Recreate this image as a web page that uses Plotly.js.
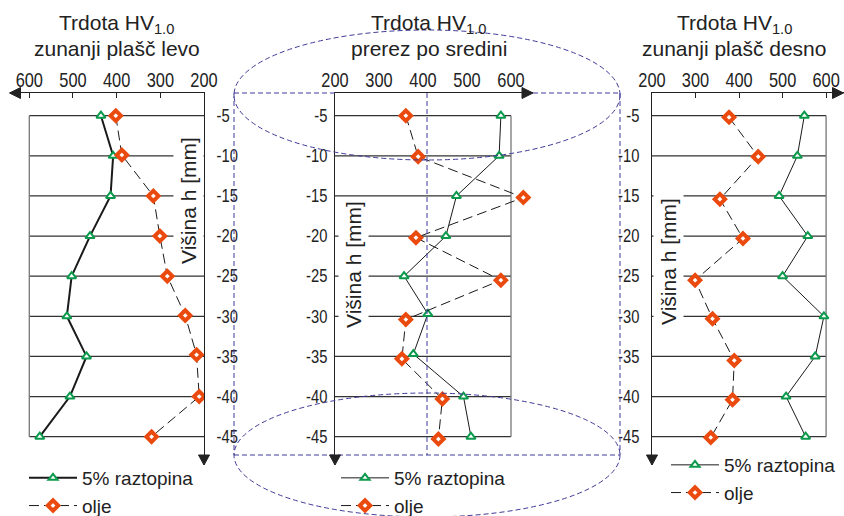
<!DOCTYPE html>
<html>
<head>
<meta charset="utf-8">
<script src="https://cdn.plot.ly/plotly-3.0.1.min.js"></script>
<style>html,body{margin:0;padding:0;background:#fff;}#chart{width:844px;height:516px;}</style>
</head>
<body>
<div id="chart"></div>
<script>
// ---- data ----
const depths = [-5, -10, -15, -20, -25, -30, -35, -40, -45];
const depthLabels = ['-5', '-10', '-15', '-20', '-25', '-30', '-35', '-40', '-45'];
const hvTicks = [200, 300, 400, 500, 600];
const hvTickLabels = ['200', '300', '400', '500', '600'];
const seriesNames = ['5% raztopina', 'olje'];

// left panel: zunanji plašč levo
const leftSolX = [436, 408, 414, 461, 503, 514, 469, 507, 576];
const leftSolY = [-5, -10, -15, -20, -25, -30, -35, -40, -45];
const leftOilX = [402, 388, 316, 301, 284, 243, 217, 211, 320];
const leftOilY = [-5, -9.9, -15, -20, -25, -29.9, -34.8, -40, -45];

// middle panel: prerez po sredini
const midSolX = [577, 573, 476, 452, 357, 411, 378, 492, 509];
const midSolY = [-5, -10, -15, -20, -25, -29.7, -34.7, -40, -45];
const midOilX = [361, 389, 628, 384, 577, 361, 352, 444, 435];
const midOilY = [-5, -10.1, -15.2, -20.2, -25.5, -30.4, -35.3, -40.3, -45.3];

// right panel: zunanji plašč desno
const rightSolX = [550, 534, 492, 558, 500, 595, 575, 508, 553];
const rightSolY = [-5, -10, -15, -20, -25, -30, -35, -40, -45];
const rightOilX = [377, 444, 356, 409, 299, 339, 389, 385, 335];
const rightOilY = [-5.2, -10.1, -15.4, -20.3, -25.5, -30.3, -35.5, -40.4, -45.1];

const panelTitles = ['zunanji plašč levo', 'prerez po sredini', 'zunanji plašč desno'];
const yTitle = 'Višina h [mm]';

// ---- helpers ----
const W = 844, H = 516;
const px = v => v / W;
const py = v => 1 - v / H;
const SANS = '"Liberation Sans", Arial, sans-serif';
const GREEN = '#0B9A4C';
const ORANGE = '#EA4A0E';
const CYL = '#3F3A96';

function solTrace(x, y, xa, ya, lg, w) {
  return {type: 'scatter', mode: 'lines+markers', name: seriesNames[0], x: x, y: y,
    xaxis: xa, yaxis: ya, legend: lg,
    line: {color: '#1a1a1a', width: w},
    marker: {symbol: 'triangle-up', size: 8, color: '#fff', line: {color: GREEN, width: 2}}};
}
function oilTrace(x, y, xa, ya, lg) {
  return {type: 'scatter', mode: 'lines+markers', name: seriesNames[1], x: x, y: y,
    xaxis: xa, yaxis: ya, legend: lg,
    line: {color: '#1a1a1a', width: 1, dash: '10px,5px'},
    marker: {symbol: 'diamond', size: 8, color: '#fff', line: {color: ORANGE, width: 4}}};
}

const data = [
  solTrace(leftSolX, leftSolY, 'x', 'y', 'legend', 2),
  oilTrace(leftOilX, leftOilY, 'x', 'y', 'legend'),
  solTrace(midSolX, midSolY, 'x2', 'y2', 'legend2', 1),
  oilTrace(midOilX, midOilY, 'x2', 'y2', 'legend2'),
  solTrace(rightSolX, rightSolY, 'x3', 'y3', 'legend3', 1),
  oilTrace(rightOilX, rightOilY, 'x3', 'y3', 'legend3')
];

const yDom = [py(465), py(93)];
const yRange = [-48.53, -2.17];

function xAxis(dom, range, anchor, ticks) {
  return {domain: dom, range: range, anchor: anchor, side: 'top', showline: true, linecolor: '#222', linewidth: 1,
    ticks: ticks, ticklen: 5, tickcolor: '#222', tickvals: hvTicks, ticktext: hvTickLabels,
    showgrid: false, zeroline: false, ticklabelstandoff: -3, automargin: false,
    tickfont: {family: SANS, size: 20, color: '#222'}};
}
function yAxis(anchor, side, standoff) {
  return {domain: yDom, range: yRange, anchor: anchor, side: side, showline: true, linecolor: '#222', linewidth: 1,
    ticks: '', tickvals: depths, ticktext: depthLabels, showgrid: false, zeroline: false, automargin: false,
    ticklabelstandoff: standoff, tickfont: {family: SANS, size: 18, color: '#222'}};
}

const shapes = [];
// gridlines and box borders from the depth categories
[['x', 'y'], ['x2', 'y2'], ['x3', 'y3']].forEach(function (ax) {
  depths.forEach(function (d) {
    shapes.push({type: 'line', xref: ax[0], yref: ax[1], x0: hvTicks[0], x1: hvTicks[hvTicks.length - 1], y0: d, y1: d,
      line: {color: '#333', width: 1.3}, layer: 'below'});
  });
  const bx = hvTicks[hvTicks.length - 1];
  shapes.push({type: 'line', xref: ax[0], yref: ax[1], x0: bx, x1: bx, y0: depths[0], y1: depths[depths.length - 1],
    line: {color: '#777', width: 1.3}, layer: 'below'});
});

// cylinder sketch (decoration)
function pl(x0, y0, x1, y1) {
  shapes.push({type: 'line', xref: 'paper', yref: 'paper', x0: px(x0), y0: py(y0), x1: px(x1), y1: py(y1),
    line: {color: CYL, width: 1, dash: '5px,3px'}, layer: 'above'});
}
shapes.push({type: 'circle', xref: 'paper', yref: 'paper', x0: px(234), x1: px(620), y0: py(30), y1: py(160),
  line: {color: CYL, width: 1, dash: '5px,3px'}, layer: 'above'});
shapes.push({type: 'circle', xref: 'paper', yref: 'paper', x0: px(234), x1: px(620), y0: py(393), y1: py(517),
  line: {color: CYL, width: 1, dash: '5px,3px'}, layer: 'above'});
pl(234, 93, 335, 93);
pl(533, 93, 620, 93);
pl(234, 93, 234, 455);
pl(620, 93, 620, 455);
pl(234, 455, 620, 455);
pl(427, 93, 427, 455);

// axis arrowheads
function tri(pts) {
  const d = 'M' + pts.map(p => px(p[0]) + ',' + py(p[1])).join('L') + 'Z';
  shapes.push({type: 'path', xref: 'paper', yref: 'paper', path: d, fillcolor: '#222', line: {color: '#222', width: 1}, layer: 'above'});
}
tri([[9.5, 93], [20.5, 87.5], [20.5, 98.5]]);
tri([[533, 93], [522, 87.5], [522, 98.5]]);
tri([[843.5, 93], [832.5, 87.5], [832.5, 98.5]]);
tri([[204, 465], [198.5, 455], [209.5, 455]]);
tri([[335, 465], [329.5, 455], [340.5, 455]]);
tri([[652, 465], [646.5, 455], [657.5, 455]]);

const annotations = [];
const titleCx = [117, 429, 734];
titleCx.forEach(function (cx, i) {
  annotations.push({xref: 'paper', yref: 'paper', x: px(cx), y: py(24), xanchor: 'center', yanchor: 'middle', showarrow: false,
    text: 'Trdota HV<sub>1.0</sub>', font: {family: SANS, size: 21, color: '#222'}});
  annotations.push({xref: 'paper', yref: 'paper', x: px(cx), y: py(49), xanchor: 'center', yanchor: 'middle', showarrow: false,
    text: panelTitles[i], font: {family: SANS, size: 21, color: '#222'}});
});
[[188, 201], [353, 265], [668, 262]].forEach(function (p) {
  annotations.push({xref: 'paper', yref: 'paper', x: px(p[0]), y: py(p[1]), xanchor: 'center', yanchor: 'middle', showarrow: false,
    text: yTitle, textangle: -90, bgcolor: '#fff', borderpad: 3, font: {family: SANS, size: 21, color: '#222'}});
});

function legendAt(x, y) {
  return {x: px(x), y: py(y), xanchor: 'left', yanchor: 'top', bgcolor: 'rgba(0,0,0,0)', borderwidth: 0,
    font: {family: SANS, size: 19, color: '#222'}, traceorder: 'normal', tracegroupgap: 0, itemwidth: 48};
}

const layout = {
  width: W, height: H, margin: {l: 0, r: 0, t: 0, b: 0, autoexpand: false},
  paper_bgcolor: '#fff', plot_bgcolor: 'rgba(0,0,0,0)',
  showlegend: true,
  xaxis: xAxis([px(9.5), px(204)], [645.3, 200], 'y', 'inside'),
  yaxis: yAxis('x', 'right', 8),
  xaxis2: xAxis([px(335), px(533)], [200, 650], 'y2', ''),
  yaxis2: yAxis('x2', 'left', 3),
  xaxis3: xAxis([px(652), px(843.5)], [200, 640], 'y3', 'inside'),
  yaxis3: yAxis('x3', 'left', 8),
  legend: legendAt(24, 459),
  legend2: legendAt(336, 459),
  legend3: legendAt(666, 446),
  shapes: shapes,
  annotations: annotations
};

Plotly.newPlot('chart', data, layout, {displayModeBar: false, staticPlot: true}).then(function () {
  // condense tick labels horizontally (narrow face as in the reference)
  document.querySelectorAll('g.xtick text, g.x2tick text, g.x3tick text, g.ytick text, g.y2tick text, g.y3tick text').forEach(function (el) {
    const x = parseFloat(el.getAttribute('x')) || 0;
    const y = parseFloat(el.getAttribute('y')) || 0;
    const t = el.getAttribute('transform') || '';
    el.setAttribute('transform', t + ' translate(' + x + ',' + y + ') scale(0.82,1) translate(' + (-x) + ',' + (-y) + ')');
  });
});
</script>
</body>
</html>
